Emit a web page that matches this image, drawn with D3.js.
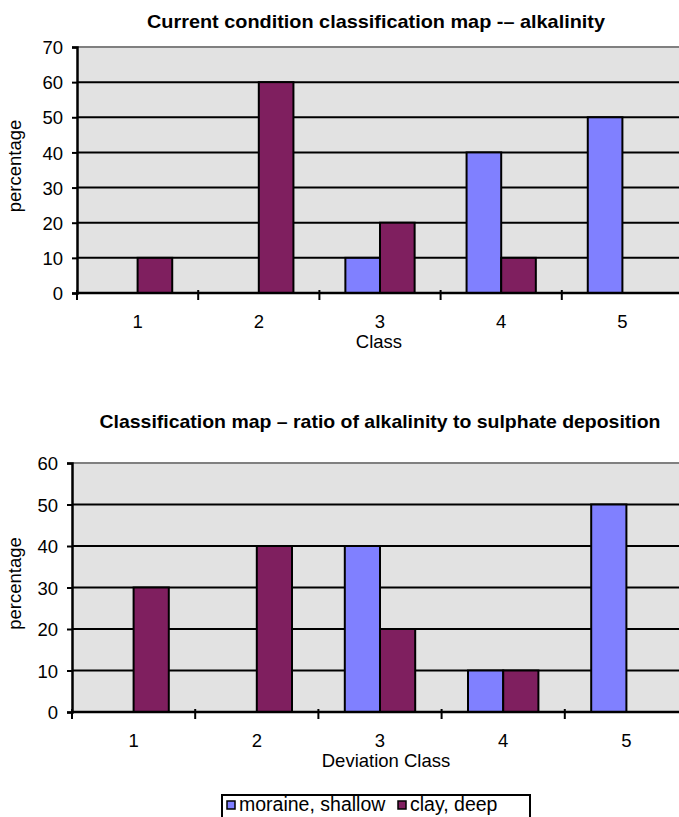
<!DOCTYPE html>
<html>
<head>
<meta charset="utf-8">
<script src="https://cdn.jsdelivr.net/npm/d3@7"></script>
<style>
  body { margin: 0; background: #fff; }
  svg text { font-family: "Liberation Sans", Arial, sans-serif; fill: #000; }
</style>
</head>
<body>
<div id="chart"></div>
<script>
// Data
const classes = ["1", "2", "3", "4", "5"];
const series = ["moraine, shallow", "clay, deep"];
const colors = ["#8080ff", "#7f1f5f"];

// Chart 1: current condition (alkalinity)
const alkMoraine = [0, 0, 10, 40, 50];
const alkClay = [10, 60, 20, 10, 0];

// Chart 2: ratio of alkalinity to sulphate deposition
const ratioMoraine = [0, 0, 40, 10, 50];
const ratioClay = [30, 40, 20, 10, 0];

const width = 679, height = 817;

const svg = d3.select("#chart").append("svg")
    .attr("width", width)
    .attr("height", height);

function drawChart(opts) {
    const g = svg.append("g");

    // Scales
    const x0 = d3.scaleBand()
        .domain(classes)
        .range([opts.left, opts.left + opts.catWidth * classes.length])
        .padding(0);
    const x1 = d3.scaleBand()
        .domain(series)
        .range([0, x0.bandwidth()])
        .paddingInner(0)
        .paddingOuter(0.75);
    const y = d3.scaleLinear()
        .domain([0, opts.yMax])
        .range([opts.bottom, opts.top]);

    // Plot area
    g.append("rect")
        .attr("x", opts.left)
        .attr("y", opts.top)
        .attr("width", x0.range()[1] - opts.left)
        .attr("height", opts.bottom - opts.top)
        .attr("fill", "#e2e2e2");
    g.append("line")
        .attr("x1", opts.left).attr("x2", x0.range()[1])
        .attr("y1", opts.top).attr("y2", opts.top)
        .attr("stroke", "#808080").attr("stroke-width", 2);

    // Gridlines
    const ticks = d3.range(0, opts.yMax + 1, 10);
    g.selectAll(".grid")
        .data(ticks.filter(t => t > 0 && t < opts.yMax))
        .enter().append("line")
        .attr("x1", opts.left).attr("x2", x0.range()[1])
        .attr("y1", d => y(d)).attr("y2", d => y(d))
        .attr("stroke", "#000").attr("stroke-width", 2);

    // Bars
    const rows = classes.map((c, i) => ({ c, vals: [opts.moraine[i], opts.clay[i]] }));
    const grp = g.selectAll(".grp").data(rows).enter().append("g")
        .attr("transform", d => `translate(${x0(d.c)},0)`);
    grp.selectAll("rect")
        .data(d => d.vals.map((v, j) => ({ s: series[j], v, j })).filter(b => b.v > 0))
        .enter().append("rect")
        .attr("x", b => x1(b.s))
        .attr("width", x1.bandwidth())
        .attr("y", b => y(b.v))
        .attr("height", b => y(0) - y(b.v))
        .attr("fill", b => colors[b.j])
        .attr("stroke", "#000")
        .attr("stroke-width", 2);

    // Y axis
    const yAxis = g.append("g")
        .attr("transform", `translate(${opts.left},0)`)
        .call(d3.axisLeft(y).tickValues(ticks).tickSize(5).tickPadding(9));
    yAxis.select(".domain").attr("stroke", "#000").attr("stroke-width", 2.5);
    yAxis.selectAll(".tick line").attr("stroke", "#000").attr("stroke-width", 2);
    yAxis.selectAll("text").attr("font-size", 18.5).attr("dy", "0.36em");

    // X axis baseline and category ticks
    g.append("line")
        .attr("x1", opts.left).attr("x2", x0.range()[1])
        .attr("y1", opts.bottom).attr("y2", opts.bottom)
        .attr("stroke", "#000").attr("stroke-width", 2.5);
    const bounds = classes.map(c => x0(c)).concat([x0.range()[1]]);
    g.selectAll(".xtick").data(bounds).enter().append("line")
        .attr("x1", d => d).attr("x2", d => d)
        .attr("y1", opts.bottom - 3).attr("y2", opts.bottom + 7)
        .attr("stroke", "#000").attr("stroke-width", 2);
    g.selectAll(".xlab").data(classes).enter().append("text")
        .attr("x", d => x0(d) + x0.bandwidth() / 2)
        .attr("y", opts.bottom + 35)
        .attr("text-anchor", "middle")
        .attr("font-size", 18.5)
        .text(d => d);

    // Titles
    g.append("text")
        .attr("x", opts.titleX).attr("y", opts.titleY)
        .attr("text-anchor", "middle")
        .attr("font-size", 18.5).attr("font-weight", "bold")
        .attr("textLength", opts.titleLen)
        .attr("lengthAdjust", "spacingAndGlyphs")
        .text(opts.title);
    g.append("text")
        .attr("x", opts.xTitleX).attr("y", opts.bottom + 55)
        .attr("text-anchor", "middle")
        .attr("font-size", 18.5)
        .text(opts.xTitle);
    g.append("text")
        .attr("transform", `translate(21,${(opts.top + opts.bottom) / 2 - 4}) rotate(-90)`)
        .attr("text-anchor", "middle")
        .attr("font-size", 18.5)
        .text("percentage");
}

drawChart({
    title: "Current condition classification map -– alkalinity",
    titleX: 376, titleY: 28, titleLen: 458,
    xTitle: "Class", xTitleX: 379,
    left: 77, catWidth: 121.2, top: 47, bottom: 293, yMax: 70,
    moraine: alkMoraine, clay: alkClay
});

drawChart({
    title: "Classification map – ratio of alkalinity to sulphate deposition",
    titleX: 380, titleY: 428, titleLen: 561,
    xTitle: "Deviation Class", xTitleX: 386,
    left: 72, catWidth: 123.2, top: 463, bottom: 712, yMax: 60,
    moraine: ratioMoraine, clay: ratioClay
});

// Legend
const legend = svg.append("g").attr("transform", "translate(222,795)");
legend.append("rect")
    .attr("x", 0).attr("y", 0).attr("width", 308).attr("height", 30)
    .attr("fill", "#fff").attr("stroke", "#000").attr("stroke-width", 2);
const itemX = [5, 176];
const items = legend.selectAll(".item").data(series).enter().append("g")
    .attr("transform", (d, i) => `translate(${itemX[i]},0)`);
items.append("rect")
    .attr("x", 0).attr("y", 6).attr("width", 8).attr("height", 8)
    .attr("fill", (d, i) => colors[i]).attr("stroke", "#000").attr("stroke-width", 1.5);
items.append("text")
    .attr("x", 12).attr("y", 16)
    .attr("font-size", 19.5)
    .text(d => d);
</script>
</body>
</html>
